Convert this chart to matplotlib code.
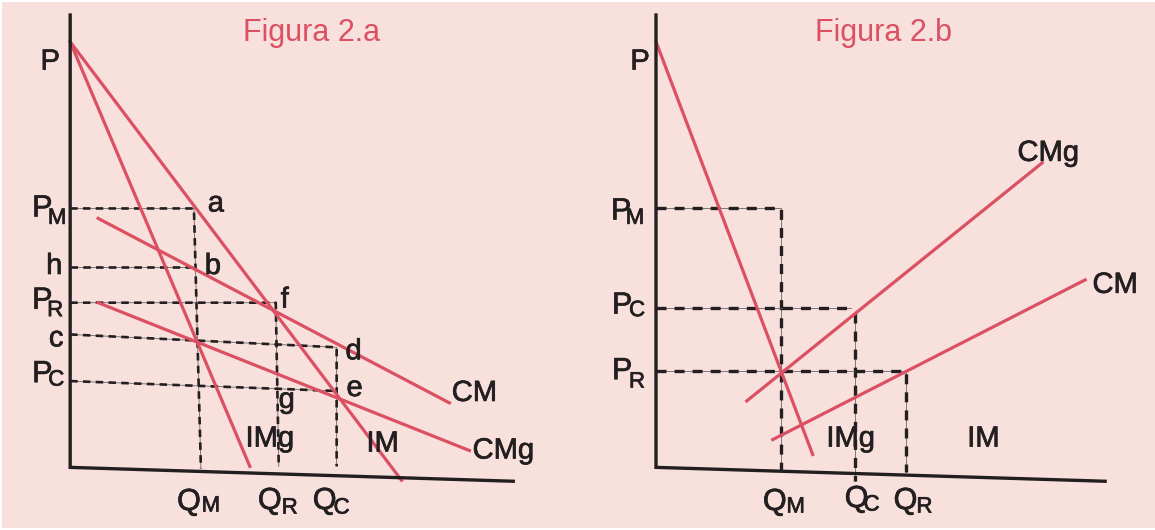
import matplotlib.pyplot as plt
import matplotlib.patheffects as pe

plt.rcParams['font.family'] = ['Liberation Sans', 'DejaVu Sans']
plt.rcParams['lines.scale_dashes'] = False

fondo = '#f8e0dd'
rojo = '#db5062'
tinta = '#231f20'

# ---- Figura 2.a (coordenadas de la lamina, y hacia abajo)
a_eje_x = [68, 68, 512]
a_eje_y = [13, 469, 483]
a_IM_x, a_IM_y = [68, 400], [40, 482]
a_IMg_x, a_IMg_y = [68, 248], [40, 468]
a_CM_x, a_CM_y = [96, 448], [218, 404]
a_CMg_x, a_CMg_y = [96, 468], [303, 452]
a_guias = [([68, 192, 199], [208, 208, 470]),
           ([68, 192], [267, 267]),
           ([68, 274, 277], [303, 303, 468]),
           ([68, 335, 335], [335, 348, 468]),
           ([68, 335], [382, 392])]
a_textos = [('P', 48, 60), ('h', 52, 266), ('c', 54, 339),
            ('a', 214, 203), ('b', 211, 266), ('f', 283, 300), ('d', 352, 352),
            ('e', 353, 389), ('g', 285, 401), ('IMg', 268, 440), ('IM', 381, 445),
            ('CM', 473, 394), ('CMg', 502, 452)]
# letra, subindice, x, y de la letra, x, y del subindice
a_sub = [('P', 'M', 40, 208, 55, 218), ('P', 'R', 40, 301, 53, 311), ('P', 'C', 40, 375, 54, 381),
         ('Q', 'M', 187, 504, 209, 508), ('Q', 'R', 268, 503, 288, 510), ('Q', 'C', 323, 503, 340, 510)]

# ---- Figura 2.b
b_eje_x = [655, 655, 1105]
b_eje_y = [13, 469, 483]
b_IMg_x, b_IMg_y = [655, 812], [40, 456]
b_CMg_x, b_CMg_y = [746, 1042], [402, 162]
b_CM_x, b_CM_y = [772, 1085], [441, 280]
b_guias = [([655, 780, 780], [208, 208, 473]),
           ([655, 850], [308, 308]),
           ([854, 854], [313, 483]),
           ([655, 906, 906], [372, 372, 474])]
b_textos = [('P', 639, 60), ('CMg', 1048, 152), ('CM', 1115, 285),
            ('IMg', 850, 440), ('IM', 983, 440)]
b_sub = [('P', 'M', 620, 211, 634, 218), ('P', 'C', 621, 306, 636, 311), ('P', 'R', 621, 372, 636, 383),
         ('Q', 'M', 774, 504, 795, 509), ('Q', 'C', 856, 501, 871, 507), ('Q', 'R', 905, 503, 924, 509)]

fig = plt.figure(figsize=(11.55, 5.3), dpi=100, facecolor='white')
ax = fig.add_axes([0.002, 0.004, 0.998, 0.992])
ax.set_facecolor(fondo)
ax.set_xlim(0, 1155)
ax.set_ylim(530, 0)
ax.axis('off')
ax.add_patch(plt.Rectangle((0, 0), 1155, 530, color=fondo, zorder=0))

grueso = [pe.withStroke(linewidth=0.5, foreground=tinta)]


def guia(xs, ys, trazo, lw):
    ax.plot(xs, ys, color='#6e6666', lw=0.6, zorder=2)
    ax.plot(xs, ys, color=tinta, lw=lw, linestyle=(0, trazo), zorder=2)


for ex, ey, curvas, guias, textos, subs, trazo, lwg in [
        (a_eje_x, a_eje_y, [(a_IM_x, a_IM_y), (a_IMg_x, a_IMg_y), (a_CM_x, a_CM_y), (a_CMg_x, a_CMg_y)],
         a_guias, a_textos, a_sub, (5.4, 3.8), 1.9),
        (b_eje_x, b_eje_y, [(b_IMg_x, b_IMg_y), (b_CMg_x, b_CMg_y), (b_CM_x, b_CM_y)],
         b_guias, b_textos, b_sub, (7.2, 5.8), 2.4)]:
    ax.plot(ex, ey, color=tinta, lw=2.4, solid_joinstyle='miter', zorder=4)
    for xs, ys in guias:
        guia(xs, ys, trazo, lwg)
    for xs, ys in curvas:
        ax.plot(xs, ys, color=rojo, lw=2.3, zorder=3)
    for t, x, y in textos:
        ax.text(x, y, t, fontsize=21, color=tinta, ha='center', va='center', path_effects=grueso)
    for b, s, x, y, xs_, ys_ in subs:
        ax.text(x, y, b, fontsize=22, color=tinta, ha='center', va='center', path_effects=grueso)
        ax.text(xs_, ys_, s, fontsize=16, color=tinta, ha='center', va='center', path_effects=grueso)

ax.text(310, 31, 'Figura 2.a', fontsize=22, color=rojo, ha='center', va='center')
ax.text(883, 31, 'Figura 2.b', fontsize=22, color=rojo, ha='center', va='center')

fig.savefig('out.png', dpi=100, facecolor='white')
